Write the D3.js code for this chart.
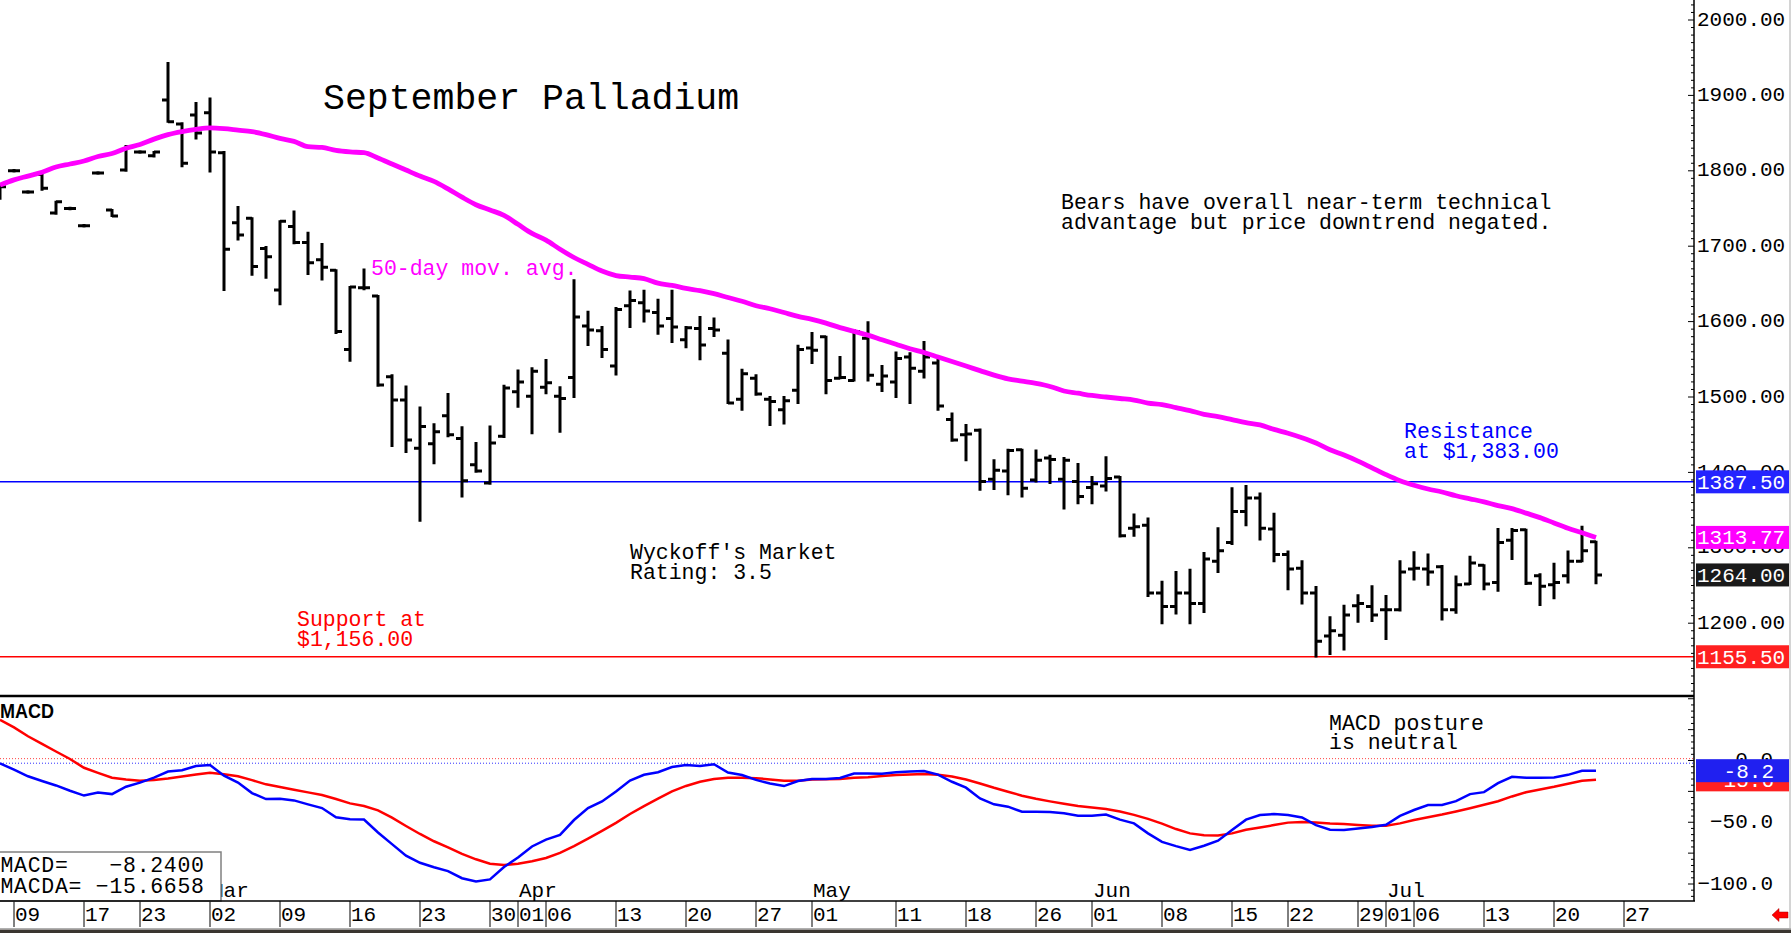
<!DOCTYPE html>
<html><head><meta charset="utf-8">
<script src="https://cdn.jsdelivr.net/npm/d3@7"></script>
<style>
html,body{margin:0;padding:0;background:#fff;overflow:hidden;}
svg{display:block;}
text{font-family:"Liberation Mono","DejaVu Sans Mono",monospace;}
</style></head><body>
<svg id="chart" width="1791" height="933"></svg>
<script>
// ---------------- DATA ----------------
const tradingDays = [
"2026-02-06","2026-02-09","2026-02-10","2026-02-11","2026-02-12","2026-02-13",
"2026-02-17","2026-02-18","2026-02-19","2026-02-20",
"2026-02-23","2026-02-24","2026-02-25","2026-02-26","2026-02-27",
"2026-03-02","2026-03-03","2026-03-04","2026-03-05","2026-03-06",
"2026-03-09","2026-03-10","2026-03-11","2026-03-12","2026-03-13",
"2026-03-16","2026-03-17","2026-03-18","2026-03-19","2026-03-20",
"2026-03-23","2026-03-24","2026-03-25","2026-03-26","2026-03-27",
"2026-03-30","2026-03-31","2026-04-01","2026-04-02",
"2026-04-06","2026-04-07","2026-04-08","2026-04-09","2026-04-10",
"2026-04-13","2026-04-14","2026-04-15","2026-04-16","2026-04-17",
"2026-04-20","2026-04-21","2026-04-22","2026-04-23","2026-04-24",
"2026-04-27","2026-04-28","2026-04-29","2026-04-30","2026-05-01",
"2026-05-04","2026-05-05","2026-05-06","2026-05-07","2026-05-08",
"2026-05-11","2026-05-12","2026-05-13","2026-05-14","2026-05-15",
"2026-05-18","2026-05-19","2026-05-20","2026-05-21","2026-05-22",
"2026-05-26","2026-05-27","2026-05-28","2026-05-29",
"2026-06-01","2026-06-02","2026-06-03","2026-06-04","2026-06-05",
"2026-06-08","2026-06-09","2026-06-10","2026-06-11","2026-06-12",
"2026-06-15","2026-06-16","2026-06-17","2026-06-18",
"2026-06-22","2026-06-23","2026-06-24","2026-06-25","2026-06-26",
"2026-06-29","2026-06-30","2026-07-01","2026-07-02",
"2026-07-06","2026-07-07","2026-07-08","2026-07-09","2026-07-10",
"2026-07-13","2026-07-14","2026-07-15","2026-07-16","2026-07-17",
"2026-07-20","2026-07-21","2026-07-22","2026-07-23","2026-07-24",
"2026-07-27","2026-07-28","2026-07-29","2026-07-30","2026-07-31"];

const opens = [1765,1800,1772,1795,1744,1750,1727,1797,1748,1801,1825,1820,1894,1862,1874,1877,1824,1731,1737,1697,
1642,1726,1705,1682,1668,1563,1645,1634,1527,1496,1432,1438,1475,1445,1410,1386,1448,1507,1501,1513,
1501,1526,1594,1588,1541,1621,1625,1612,1604,1576,1591,1591,1558,1497,1525,1497,1483,1509,1565,1580,
1525,1522,1578,1517,1520,1553,1534,1545,1470,1450,1456,1391,1402,1430,1390,1419,1391,1388,1380,1382,
1394,1326,1330,1240,1222,1240,1226,1282,1307,1348,1366,1325,1291,1273,1240,1183,1184,1223,1222,1218,
1218,1272,1272,1275,1218,1252,1277,1254,1310,1324,1263,1251,1263,1282,1308];
const highs = [1781,1801,1773,1797,1759,1751,1728,1798,1748,1833,1826,1825,1943,1863,1890,1896,1825,1752,1737,1699,
1733,1746,1718,1703,1668,1646,1669,1634,1529,1514,1486,1464,1504,1460,1439,1461,1515,1535,1538,1549,
1513,1655,1613,1593,1618,1640,1641,1629,1641,1593,1606,1604,1575,1536,1529,1500,1500,1568,1585,1580,
1553,1589,1599,1541,1559,1558,1573,1549,1478,1463,1457,1416,1430,1430,1429,1422,1419,1411,1394,1420,
1394,1344,1339,1255,1268,1271,1293,1326,1379,1382,1372,1345,1295,1282,1248,1208,1223,1237,1249,1236,
1282,1294,1291,1276,1262,1288,1277,1325,1325,1324,1265,1279,1295,1328,1308];
const lows = [1763,1799,1771,1775,1743,1749,1726,1796,1740,1800,1824,1819,1865,1806,1843,1799,1642,1709,1662,1658,
1623,1704,1663,1656,1585,1548,1643,1515,1435,1427,1336,1412,1448,1368,1401,1385,1447,1487,1452,1505,
1454,1500,1569,1553,1530,1593,1600,1584,1573,1566,1550,1581,1492,1483,1503,1463,1465,1492,1545,1505,
1525,1522,1522,1508,1500,1492,1526,1483,1442,1416,1377,1378,1371,1368,1388,1386,1352,1359,1359,1376,
1315,1316,1236,1200,1213,1200,1215,1268,1305,1330,1311,1282,1245,1226,1156,1159,1165,1202,1203,1179,
1217,1258,1251,1205,1214,1252,1245,1243,1285,1252,1224,1233,1254,1282,1253];
const closes = [1779,1800,1772,1777,1759,1750,1727,1797,1740,1832,1825,1825,1865,1810,1850,1825,1696,1715,1673,1686,
1733,1705,1678,1672,1587,1646,1645,1516,1496,1443,1461,1454,1450,1389,1402,1439,1512,1520,1534,1519,
1498,1606,1589,1563,1616,1628,1614,1594,1593,1592,1569,1589,1492,1531,1504,1494,1495,1563,1562,1522,
1526,1587,1529,1528,1551,1538,1553,1488,1443,1451,1388,1403,1429,1379,1416,1417,1416,1368,1385,1392,
1316,1328,1240,1222,1240,1226,1285,1296,1348,1366,1326,1291,1272,1240,1176,1190,1211,1226,1211,1218,
1268,1273,1268,1218,1251,1280,1252,1307,1323,1253,1249,1254,1282,1296,1264];
const ma50 = [1781,1788,1793,1798,1805,1809,1813,1819,1823,1830,1835,1842,1848,1852,1855,1857,1856,1854,1852,1848,
1843,1839,1832,1831,1827,1825,1824,1817,1809,1801,1793,1786,1776,1765,1755,1748,1741,1729,1717,1708,
1696,1685,1676,1667,1661,1659,1657,1651,1648,1644,1641,1637,1632,1627,1621,1617,1612,1607,1603,1598,
1592,1587,1582,1576,1570,1564,1559,1553,1547,1541,1535,1529,1524,1521,1518,1514,1508,1505,1502,1500,
1498,1496,1492,1490,1486,1482,1477,1474,1470,1466,1463,1457,1452,1446,1439,1430,1423,1415,1406,1397,
1389,1383,1378,1374,1369,1365,1361,1356,1352,1346,1340,1333,1326,1320,1313.77];
const macd = [-2.3,-7.3,-12.8,-16.6,-20.2,-24.5,-28.4,-26,-27.2,-21.2,-17.9,-13.9,-8.9,-7.9,-4.5,-3.6,-12.3,-17.9,-26.4,-31.2,
-30.9,-32.3,-35.5,-38.5,-46,-47.6,-47.8,-58.3,-67.7,-77,-82.8,-86.4,-89.6,-95.3,-98,-96.3,-86.3,-78.5,-69.6,-64,
-60.2,-48.2,-38.5,-33.2,-25.1,-16.2,-11.6,-9.5,-5.3,-3.6,-4.5,-3,-9.8,-11.8,-15.7,-18.6,-20.7,-16.6,-15,-15,
-14.2,-10.5,-10.6,-10.7,-9.6,-9,-8.5,-11.4,-17.2,-22,-30.7,-35.5,-37.4,-41.5,-41.5,-41.7,-42.8,-44.8,-44.8,-43.7,
-47.9,-50.9,-59,-65.9,-69.3,-72.4,-69,-64.9,-56.3,-47.9,-44.2,-43.3,-44.1,-46.1,-52.3,-56,-56.3,-55.1,-53.8,-52,
-44.9,-40.1,-36,-36,-32.9,-27.2,-25.6,-18.4,-13.2,-13.9,-13.9,-13.8,-11.6,-8.3,-8.24];
const macdSignal = [33,26.8,19.6,13.4,7.3,1.2,-5.9,-10,-13.9,-15.4,-16.4,-15.7,-14.6,-13,-11.4,-9.9,-11.1,-12.8,-15.9,-19.3,
-21.5,-23.7,-25.8,-28,-31.2,-34.7,-36.8,-40.4,-46.3,-53,-59.5,-65.4,-70.3,-75.6,-80,-83.6,-84.6,-83.6,-81.6,-78.9,
-74.8,-69.3,-63.3,-57,-50.5,-43.3,-36.9,-30.9,-25,-20.6,-17.2,-15,-13.9,-13.9,-14.3,-15.3,-16.4,-16.4,-15.3,-15.1,
-15,-14,-13.6,-12.5,-11.8,-11.4,-10.9,-11.6,-12.9,-15.4,-18.6,-22.1,-25.3,-28.5,-31,-33.1,-35,-36.9,-38.1,-39.3,
-41.3,-44,-47.3,-51.1,-55.5,-59,-60.6,-60.7,-59,-56.1,-54.2,-52.3,-50.3,-49.8,-50.2,-51,-51.5,-52.2,-52.8,-52.8,
-50.9,-48.2,-46,-43.8,-41.3,-38.6,-35.9,-33,-29.1,-25.7,-23.5,-21.3,-18.8,-16.4,-15.67];

const resistanceLevel = 1387.5;
const supportLevel = 1155.5;
const maLast = 1313.77;
const lastClose = 1264.00;
const macdLast = -8.2400;
const signalLast = -15.6658;
const priceTickValues = [1200,1300,1400,1500,1600,1700,1800,1900,2000];
const macdTickValues = [0,-50,-100];
const dateTicks = ["2026-02-09","2026-02-17","2026-02-23","2026-03-02","2026-03-09","2026-03-16","2026-03-23",
"2026-03-30","2026-04-01","2026-04-06","2026-04-13","2026-04-20","2026-04-27","2026-05-01","2026-05-11",
"2026-05-18","2026-05-26","2026-06-01","2026-06-08","2026-06-15","2026-06-22","2026-06-29","2026-07-01",
"2026-07-06","2026-07-13","2026-07-20","2026-07-27"];
const monthTicks = ["2026-03-02","2026-04-01","2026-05-01","2026-06-01","2026-07-01"];
const monthLabels = ["Mar","Apr","May","Jun","Jul"];

// ---------------- LAYOUT ----------------
const W = 1791, H = 933;
const axisX = 1694;
const priceBottom = 696;
const macdBottom = 901;
const svg = d3.select("#chart");

const x = d3.scalePoint().domain(tradingDays).range([0, 1680]);
const yP = d3.scaleLinear().domain([1100, 2000]).range([698.6, 20]);
const yM = d3.scaleLinear().domain([-100, 0]).range([884, 760.5]);

const bars = tradingDays.slice(0, opens.length).map((d, i) => ({
  date: d, o: opens[i], h: highs[i], l: lows[i], c: closes[i], ma: ma50[i], m: macd[i], s: macdSignal[i]
}));

svg.append("rect").attr("width", W).attr("height", H).attr("fill", "#fff");

const defs = svg.append("defs");
defs.append("clipPath").attr("id", "clipP").append("rect")
  .attr("x", 0).attr("y", 0).attr("width", axisX).attr("height", priceBottom);
defs.append("clipPath").attr("id", "clipM").append("rect")
  .attr("x", 0).attr("y", priceBottom + 2).attr("width", axisX).attr("height", macdBottom - priceBottom - 2);

// ---------- price panel ----------
const gP = svg.append("g").attr("clip-path", "url(#clipP)");
gP.append("line").attr("x1", 0).attr("x2", axisX)
  .attr("y1", yP(resistanceLevel)).attr("y2", yP(resistanceLevel))
  .attr("stroke", "#0000ff").attr("stroke-width", 1.5);
gP.append("line").attr("x1", 0).attr("x2", axisX)
  .attr("y1", yP(supportLevel)).attr("y2", yP(supportLevel))
  .attr("stroke", "#ff0000").attr("stroke-width", 1.5);

gP.append("g").selectAll("path").data(bars).join("path")
  .attr("d", d => {
    const cx = x(d.date);
    return `M${cx},${yP(d.h) - 1}V${yP(d.l) + 1}M${cx - 6},${yP(d.o)}H${cx}M${cx},${yP(d.c)}H${cx + 6}`;
  })
  .attr("fill", "none").attr("stroke", "#000").attr("stroke-width", 3);

gP.append("path").datum(bars)
  .attr("d", d3.line().x(d => x(d.date)).y(d => yP(d.ma)).curve(d3.curveMonotoneX))
  .attr("fill", "none").attr("stroke", "#ff00ff").attr("stroke-width", 4.8);

// annotations
const ann = svg.append("g").style("font-size", "21.5px");
ann.append("text").attr("x", 323).attr("y", 108.5).style("font-size", "36.5px").attr("fill", "#000")
  .text("September Palladium");
ann.append("text").attr("x", 371).attr("y", 274.5).attr("fill", "#ff00ff").text("50-day mov. avg.");
ann.append("text").attr("x", 1061).attr("y", 209).attr("fill", "#000").text("Bears have overall near-term technical");
ann.append("text").attr("x", 1061).attr("y", 229).attr("fill", "#000").text("advantage but price downtrend negated.");
ann.append("text").attr("x", 1404).attr("y", 438).attr("fill", "#0000ff").text("Resistance");
ann.append("text").attr("x", 1404).attr("y", 458).attr("fill", "#0000ff").text("at $1,383.00");
ann.append("text").attr("x", 630).attr("y", 559).attr("fill", "#000").text("Wyckoff's Market");
ann.append("text").attr("x", 630).attr("y", 578.5).attr("fill", "#000").text("Rating: 3.5");
ann.append("text").attr("x", 297).attr("y", 625.5).attr("fill", "#ff0000").text("Support at");
ann.append("text").attr("x", 297).attr("y", 645.5).attr("fill", "#ff0000").text("$1,156.00");
ann.append("text").attr("x", 1329).attr("y", 730).attr("fill", "#000").text("MACD posture");
ann.append("text").attr("x", 1329).attr("y", 749).attr("fill", "#000").text(" is neutral");

// ---------- price axis ----------
const gA = svg.append("g");
gA.append("g").selectAll("line").data(d3.range(1110, 2021, 10)).join("line")
  .attr("x1", d => d % 100 === 0 ? axisX - 6 : axisX - 3).attr("x2", axisX)
  .attr("y1", d => yP(d)).attr("y2", d => yP(d))
  .attr("stroke", "#000").attr("stroke-width", 1);
gA.append("g").selectAll("text").data(priceTickValues).join("text")
  .attr("x", 1697).attr("y", d => yP(d) + 5.5)
  .style("font-size", "21px").attr("fill", "#000")
  .text(d => d3.format(".2f")(d));

const priceBoxes = [
  {v: resistanceLevel, fill: "#2424ff"},
  {v: maLast, fill: "#ff00ff"},
  {v: lastClose, fill: "#1a1a1a"},
  {v: supportLevel, fill: "#ff2020"}
];
const pb = gA.append("g").selectAll("g").data(priceBoxes).join("g");
pb.append("rect").attr("x", 1696).attr("width", 94).attr("y", d => yP(d.v) - 11.5).attr("height", 23)
  .attr("fill", d => d.fill);
pb.append("text").attr("x", 1697).attr("y", d => yP(d.v) + 7)
  .style("font-size", "21px").attr("fill", "#fff").text(d => d3.format(".2f")(d.v));

// ---------- MACD panel ----------
const gM = svg.append("g").attr("clip-path", "url(#clipM)");
gM.append("line").attr("x1", 0).attr("x2", axisX).attr("y1", yM(1.5)).attr("y2", yM(1.5))
  .attr("stroke", "#ff4040").attr("stroke-width", 1).attr("stroke-dasharray", "1,2");
gM.append("line").attr("x1", 0).attr("x2", axisX).attr("y1", yM(-2.2)).attr("y2", yM(-2.2))
  .attr("stroke", "#3030ff").attr("stroke-width", 1).attr("stroke-dasharray", "1,2");
gM.append("path").datum(bars)
  .attr("d", d3.line().x(d => x(d.date)).y(d => yM(d.s)))
  .attr("fill", "none").attr("stroke", "#ff0000").attr("stroke-width", 2.5);
gM.append("path").datum(bars)
  .attr("d", d3.line().x(d => x(d.date)).y(d => yM(d.m)))
  .attr("fill", "none").attr("stroke", "#0000ff").attr("stroke-width", 2.5);

// MACD axis
gA.append("g").selectAll("line").data(d3.range(50, -115, -5)).join("line")
  .attr("x1", d => d % 25 === 0 ? axisX - 6 : axisX - 3).attr("x2", axisX)
  .attr("y1", d => yM(d)).attr("y2", d => yM(d))
  .attr("stroke", "#000").attr("stroke-width", 1);
gA.append("g").selectAll("text").data(macdTickValues).join("text")
  .attr("x", 1773).attr("y", d => yM(d) + 5.5).attr("text-anchor", "end")
  .style("font-size", "21px").attr("fill", "#000")
  .text(d => d3.format(".1f")(d));
const trunc1 = v => (Math.trunc(v * 10) / 10).toFixed(1);
const macdBoxes = [
  {v: signalLast, fill: "#ff2020"},
  {v: macdLast, fill: "#2020f0"}
];
const mb = gA.append("g").selectAll("g").data(macdBoxes).join("g");
mb.append("rect").attr("x", 1696).attr("width", 94).attr("y", d => yM(d.v) - 11.5).attr("height", 23)
  .attr("fill", d => d.fill);
mb.append("text").attr("x", 1774).attr("y", d => yM(d.v) + 7).attr("text-anchor", "end")
  .style("font-size", "21px").attr("fill", "#fff").text(d => trunc1(d.v));

// MACD label
svg.append("text").attr("x", 0).attr("y", 718)
  .style("font-family", "'Liberation Sans', Arial, sans-serif").style("font-weight", "bold")
  .style("font-size", "21px").attr("textLength", 54).attr("lengthAdjust", "spacingAndGlyphs")
  .attr("fill", "#000").text("MACD");

// ---------- date axis ----------
const gD = svg.append("g");
gD.selectAll("line.tk").data(dateTicks).join("line").attr("class", "tk")
  .attr("x1", d => x(d)).attr("x2", d => x(d)).attr("y1", macdBottom).attr("y2", 927)
  .attr("stroke", "#000").attr("stroke-width", 1);
gD.selectAll("text.dl").data(dateTicks).join("text").attr("class", "dl")
  .attr("x", d => x(d) + 1).attr("y", 921).style("font-size", "21px").attr("fill", "#000")
  .text(d => d.slice(8, 10));
gD.selectAll("text.ml").data(monthTicks).join("text").attr("class", "ml")
  .attr("x", d => x(d) + 1).attr("y", 896.5).style("font-size", "21px").attr("fill", "#000")
  .text((d, i) => monthLabels[i]);

// legend box
const lg = svg.append("g");
lg.append("rect").attr("x", -2).attr("y", 852).attr("width", 223).attr("height", 49)
  .attr("fill", "#fff").attr("stroke", "#808080").attr("stroke-width", 1.5);
lg.append("text").attr("x", 0.5).attr("y", 871.5).style("white-space", "pre")
  .attr("textLength", 203.5).attr("lengthAdjust", "spacing")
  .style("font-size", "21.5px").attr("fill", "#000").text("MACD=   " + d3.format(".4f")(macdLast));
lg.append("text").attr("x", 0.5).attr("y", 893.3).style("white-space", "pre")
  .attr("textLength", 203.5).attr("lengthAdjust", "spacing")
  .style("font-size", "21.5px").attr("fill", "#000").text("MACDA= " + d3.format(".4f")(signalLast));

// frame lines
svg.append("line").attr("x1", 0).attr("x2", axisX).attr("y1", priceBottom).attr("y2", priceBottom)
  .attr("stroke", "#000").attr("stroke-width", 2.5);
svg.append("line").attr("x1", 0).attr("x2", axisX + 1).attr("y1", macdBottom).attr("y2", macdBottom)
  .attr("stroke", "#000").attr("stroke-width", 1.5);
svg.append("line").attr("x1", axisX).attr("x2", axisX).attr("y1", 0).attr("y2", macdBottom)
  .attr("stroke", "#000").attr("stroke-width", 1.5);
svg.append("rect").attr("x", 1789).attr("y", 0).attr("width", 2).attr("height", 929).attr("fill", "#d4d4d4");
svg.append("rect").attr("x", 0).attr("y", 928).attr("width", W).attr("height", 1).attr("fill", "#b0b0b0");
svg.append("rect").attr("x", 0).attr("y", 929.5).attr("width", W).attr("height", 3.5).attr("fill", "#3a3530");

// red arrow
svg.append("path").attr("d", "M1772,915 L1779,908.5 L1779,912 L1788,912 L1788,918 L1779,918 L1779,921.5 Z")
  .attr("fill", "#ff0000").attr("stroke", "#a00000").attr("stroke-width", 0.5);
</script>
</body></html>
